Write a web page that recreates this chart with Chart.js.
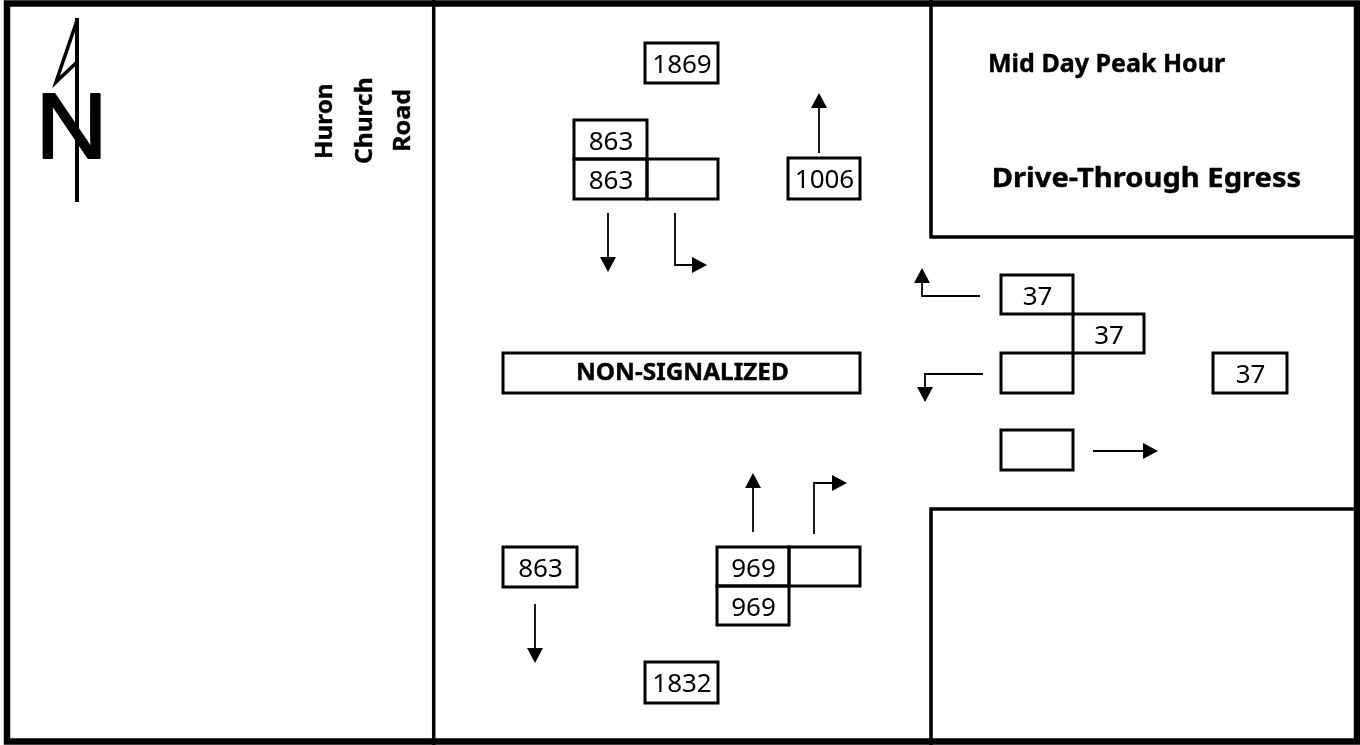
<!DOCTYPE html>
<html>
<head>
<meta charset="utf-8">
<title>Mid Day Peak Hour - Drive-Through Egress</title>
<script src="https://cdn.jsdelivr.net/npm/chart.js@4.4.1/dist/chart.umd.min.js"></script>
<style>
  html, body { margin: 0; padding: 0; background: #fff; }
  #wrap { width: 1360px; height: 745px; }
</style>
</head>
<body>
<div id="wrap"><canvas id="diagram" width="1360" height="745"></canvas></div>
<script>
/**************************************************************
 * 1. Volumes & labels
 **************************************************************/
const northLeg = [1869, 863, 863, 1006];  // two-way total, SB through, SB approach, NB departing
const eastLeg = [37, 37, 37];             // left out, approach, two-way total
const southLeg = [863, 969, 969, 1832];   // SB departing, NB through, NB approach, two-way total
const roadLines = ["Huron", "Church", "Road"];
const titleLines = ["Mid Day Peak Hour", "Drive-Through Egress"];
const controlLabel = "NON-SIGNALIZED";

/**************************************************************
 * 2. Diagram layout (in sheet units, 1360 x 745)
 **************************************************************/
// [x0, y0, x1, y1, text]
const boxes = [
  [645, 43, 718, 83, northLeg[0]],
  [574, 120, 647, 159, northLeg[1]],
  [574, 159, 647, 199, northLeg[2]],
  [647, 159, 718, 199, ""],
  [788, 158, 860, 199, northLeg[3]],
  [1001, 275, 1073, 314, eastLeg[0]],
  [1073, 314, 1144, 353, eastLeg[1]],
  [1001, 353, 1073, 393, ""],
  [1213, 353, 1287, 393, eastLeg[2]],
  [1001, 430, 1073, 470, ""],
  [503, 547, 577, 587, southLeg[0]],
  [717, 547, 789, 586, southLeg[1]],
  [789, 547, 860, 586, ""],
  [717, 586, 789, 625, southLeg[2]],
  [645, 662, 718, 703, southLeg[3]]
];

// movement arrows, head at the last point
const arrows = [
  [[608, 213], [608, 272]],
  [[675, 213], [675, 265], [707, 265]],
  [[819, 153], [819, 93]],
  [[980, 296], [922, 296], [922, 268]],
  [[983, 374], [925, 374], [925, 402]],
  [[1093, 451], [1158, 451]],
  [[535, 604], [535, 663]],
  [[753, 532], [753, 473]],
  [[814, 534], [814, 483], [847, 483]]
];

// sheet frame lines
const frameLines = [
  [[433.7, 0], [433.7, 745]],
  [[931, 0], [931, 237], [1360, 237]],
  [[1360, 509], [931, 509], [931, 745]]
];

/**************************************************************
 * 3. Drawing helpers
 **************************************************************/
// draw text so that its ink spans x0..x1 on the given baseline
function fitText(ctx, text, x0, x1, baseline, outline) {
  ctx.textAlign = "left";
  ctx.textBaseline = "alphabetic";
  const m = ctx.measureText(text);
  const ink = m.actualBoundingBoxLeft + m.actualBoundingBoxRight;
  ctx.save();
  ctx.translate(x0, baseline);
  ctx.scale((x1 - x0) / ink, 1);
  ctx.fillText(text, m.actualBoundingBoxLeft, 0);
  if (outline) {
    ctx.lineWidth = outline;
    ctx.lineJoin = "round";
    ctx.strokeText(text, m.actualBoundingBoxLeft, 0);
  }
  ctx.restore();
}

function polyline(ctx, pts) {
  ctx.beginPath();
  ctx.moveTo(pts[0][0], pts[0][1]);
  for (let i = 1; i < pts.length; i++) ctx.lineTo(pts[i][0], pts[i][1]);
  ctx.stroke();
}

const diagramPlugin = {
  id: "diagram",
  beforeDraw(chart) {
    const ctx = chart.ctx;
    ctx.save();
    ctx.fillStyle = "#fff";
    ctx.fillRect(0, 0, chart.width, chart.height);
    ctx.restore();
  },
  afterDraw(chart) {
    const ctx = chart.ctx;
    const sx = chart.scales.x, sy = chart.scales.y;
    const P = p => [sx.getPixelForValue(p[0]), sy.getPixelForValue(p[1])];

    ctx.save();
    ctx.strokeStyle = "#000";
    ctx.fillStyle = "#000";
    ctx.lineJoin = "miter";
    ctx.lineCap = "butt";

    // outer frame
    ctx.lineWidth = 6.5;
    const a = P([7, 3.5]), b = P([1357, 741.5]);
    ctx.strokeRect(a[0], a[1], b[0] - a[0], b[1] - a[1]);

    ctx.lineWidth = 3.5;
    frameLines.forEach(l => polyline(ctx, l.map(P)));

    // north arrow
    ctx.font = "93px 'Liberation Sans'";
    fitText(ctx, "N", P([43, 0])[0], P([100, 0])[0], P([0, 158])[1], 2);
    ctx.lineWidth = 4;
    polyline(ctx, [[77, 18], [77, 202]].map(P));
    ctx.lineWidth = 3.5;
    ctx.lineJoin = "miter";
    polyline(ctx, [[77.5, 19], [56, 82], [76, 63]].map(P));

    // road name, rotated
    ctx.font = "bold 24px 'Noto Sans'";
    const roadSpans = [[85, 157, 332], [79, 163, 372], [90, 150, 410]];
    roadLines.forEach((t, i) => {
      const [yTop, yBot, xBase] = roadSpans[i];
      const top = P([xBase, yTop]), bot = P([xBase, yBot]);
      ctx.save();
      ctx.translate(top[0], 0);
      ctx.rotate(-Math.PI / 2);
      fitText(ctx, t, -bot[1], -top[1], 0, 0.4);
      ctx.restore();
    });

    // titles
    ctx.font = "bold 25px 'Noto Sans'";
    fitText(ctx, titleLines[0], P([990, 0])[0], P([1225, 0])[0], P([0, 72])[1], 0.4);
    ctx.font = "bold 26px 'Noto Sans'";
    fitText(ctx, titleLines[1], P([994, 0])[0], P([1300, 0])[0], P([0, 187])[1], 0.4);

    // control box
    ctx.lineWidth = 3;
    ctx.lineJoin = "miter";
    const c0 = P([503, 353]), c1 = P([860, 393]);
    ctx.strokeRect(c0[0], c0[1], c1[0] - c0[0], c1[1] - c0[1]);
    ctx.font = "bold 23px 'Noto Sans'";
    fitText(ctx, controlLabel, P([578, 0])[0], P([788, 0])[0], P([0, 380])[1], 0.4);

    // volume boxes
    ctx.font = "26px 'Noto Sans'";
    boxes.forEach(([x0, y0, x1, y1, text]) => {
      const p0 = P([x0, y0]), p1 = P([x1, y1]);
      ctx.lineWidth = 3;
      ctx.lineJoin = "miter";
      ctx.strokeRect(p0[0], p0[1], p1[0] - p0[0], p1[1] - p0[1]);
      if (text !== "") {
        ctx.textAlign = "center";
        ctx.textBaseline = "alphabetic";
        ctx.fillText(String(text), (p0[0] + p1[0]) / 2 + 0.5, p0[1] + 30);
      }
    });

    // movement arrows
    ctx.lineWidth = 1.8;
    arrows.forEach(pts => {
      const px = pts.map(P);
      const tip = px[px.length - 1], prev = px[px.length - 2];
      const dx = tip[0] - prev[0], dy = tip[1] - prev[1];
      const len = Math.hypot(dx, dy), ux = dx / len, uy = dy / len;
      const headLen = 15, half = 8;
      const base = [tip[0] - ux * headLen, tip[1] - uy * headLen];
      polyline(ctx, px.slice(0, -1).concat([base]));
      ctx.beginPath();
      ctx.moveTo(tip[0], tip[1]);
      ctx.lineTo(base[0] - uy * half, base[1] + ux * half);
      ctx.lineTo(base[0] + uy * half, base[1] - ux * half);
      ctx.closePath();
      ctx.fill();
    });

    ctx.restore();
  }
};

/**************************************************************
 * 4. Chart
 **************************************************************/
window.addEventListener("DOMContentLoaded", () => {
  const ctx = document.getElementById("diagram").getContext("2d");
  new Chart(ctx, {
    type: "scatter",
    data: { datasets: [{ data: [], pointRadius: 0 }] },
    options: {
      responsive: false,
      animation: false,
      devicePixelRatio: 1,
      layout: { padding: 0 },
      scales: {
        x: { type: "linear", min: 0, max: 1360, display: false },
        y: { type: "linear", min: 0, max: 745, reverse: true, display: false }
      },
      plugins: { legend: { display: false }, tooltip: { enabled: false } }
    },
    plugins: [diagramPlugin]
  });
});
</script>
</body>
</html>
